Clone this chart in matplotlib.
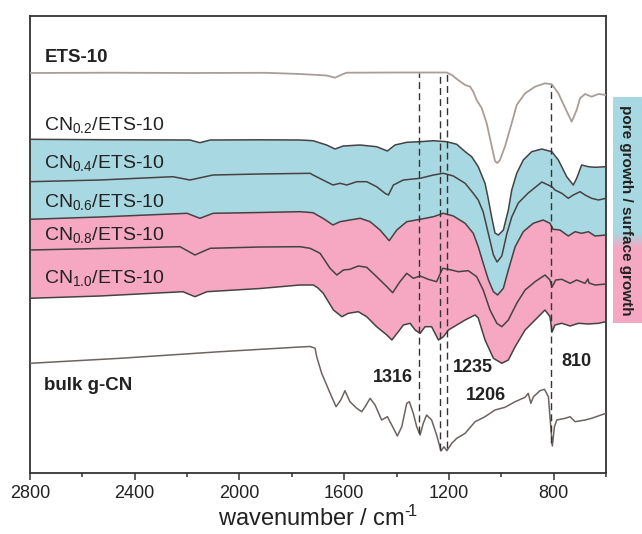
import matplotlib
matplotlib.use("Agg")
import matplotlib.pyplot as plt
import numpy as np
from matplotlib.ticker import MultipleLocator
from matplotlib.colors import LinearSegmentedColormap

plt.rcParams['font.family'] = ['Liberation Sans', 'DejaVu Sans']
plt.rcParams['mathtext.fontset'] = 'custom'
plt.rcParams['mathtext.rm'] = 'Liberation Sans'
plt.rcParams['mathtext.it'] = 'Liberation Sans:italic'
plt.rcParams['mathtext.bf'] = 'Liberation Sans:bold'

# ---------------- data (wavenumber in cm^-1, transmittance in a.u., offset) ----
ets_w = [2800, 2500, 2189, 1900, 1769, 1667, 1635, 1604, 1590, 1387, 1208, 1189, 1165, 1138,
         1119, 1107, 1094, 1075, 1056, 1036, 1024, 1015, 1005, 986, 960, 941, 909, 871, 833,
         807, 782, 756, 731, 712, 699, 680, 655, 629, 600]
ets_v = [400, 400.3, 400, 400.2, 399, 397.5, 395.3, 399, 400.3, 400.5, 400.5, 398, 393, 388,
         386.3, 381.3, 373, 365, 350, 326.3, 312, 310, 313, 326.3, 350, 368, 379.7, 386.3, 389.7,
         388.7, 379.7, 365, 351.3, 363, 374.7, 379, 376.3, 379, 378]

cn02_w = [2800, 2533, 2189, 2151, 2112, 1921, 1769, 1719, 1667, 1635, 1604, 1539, 1476, 1435,
          1406, 1361, 1310, 1259, 1208, 1170, 1138, 1113, 1088, 1062, 1051, 1036, 1024, 1011,
          992, 973, 960, 941, 916, 884, 845, 807, 782, 750, 725, 712, 693, 667, 642, 600]
cn02_v = [333.7, 333.3, 333, 330.3, 333, 333.2, 333, 332.3, 328, 324, 327, 328, 326.3, 322,
          328, 330.7, 331.3, 332.3, 331.3, 328.7, 321.3, 316.3, 306.3, 289.7, 276, 255, 240, 238,
          243, 263, 283, 299.7, 313, 321.3, 324, 321.3, 313, 296.3, 288, 294.7, 308, 306.3, 305.7, 306.3]

cn04_w = [2800, 2533, 2254, 2189, 2101, 1921, 1730, 1719, 1681, 1643, 1616, 1590, 1552, 1514,
          1476, 1444, 1431, 1412, 1374, 1310, 1259, 1221, 1183, 1138, 1107, 1088, 1069, 1049,
          1030, 1016, 998, 979, 960, 935, 897, 845, 807, 795, 769, 744, 725, 699, 680, 655, 629, 600]
cn04_v = [291.3, 293, 296.3, 293, 298, 299, 299.7, 298, 293, 288, 289.7, 288, 291.3, 291.3,
          286.3, 279.7, 278, 288, 293, 294.7, 298, 299.7, 297, 289.7, 279.7, 273, 261, 239,
          218, 211, 217, 239, 256, 270, 280, 291, 286.3, 283, 279.7, 274.7, 278, 281.3, 278, 274.7, 273, 274.7]

cn06_w = [2800, 2533, 2200, 2151, 2101, 1921, 1769, 1719, 1681, 1643, 1616, 1578, 1539, 1501,
          1463, 1428, 1399, 1361, 1310, 1259, 1221, 1183, 1138, 1107, 1088, 1069, 1049, 1030,
          1014, 992, 973, 947, 916, 878, 840, 814, 802, 776, 744, 718, 693, 667, 642, 600]
cn06_v = [253.7, 256, 259.7, 254.7, 259.7, 260.5, 261.3, 260.3, 254.7, 248, 251.3, 253, 254.7, 251.3,
          243, 232.3, 243, 251.3, 253.7, 256.3, 259.7, 257, 249.7, 239.7, 226.3, 209.7, 193, 181.3,
          178, 184.7, 203, 226.3, 241.3, 249.7, 253, 249.7, 243.7, 243, 237, 241.3, 239.7, 241.3, 237, 238]

cn08_w = [2800, 2533, 2227, 2170, 2112, 1921, 1769, 1730, 1692, 1654, 1628, 1603, 1578, 1546,
          1514, 1476, 1437, 1415, 1387, 1361, 1336, 1310, 1279, 1247, 1224, 1202, 1164, 1126,
          1094, 1069, 1043, 1017, 998, 973, 941, 909, 871, 833, 814, 806, 792, 769, 737, 712,
          680, 669, 665, 642, 600]
cn08_v = [223, 224.5, 226.3, 218, 224.7, 226, 226.3, 224.7, 219.7, 204.7, 198, 203, 203.7, 207,
          205.7, 196.3, 186.3, 180.3, 191.3, 199.7, 194.7, 197, 193.7, 191.3, 204.7, 203.7, 201.3, 202.3,
          196.3, 183, 163, 149.7, 146.3, 153, 169.7, 183, 191.3, 198, 193, 186, 193, 193.7, 189.7, 193,
          189.7, 194, 190, 188, 189]

cn10_w = [2800, 2533, 2216, 2170, 2124, 1921, 1769, 1718, 1700, 1680, 1641, 1609, 1584, 1546,
          1514, 1476, 1437, 1418, 1393, 1374, 1348, 1329, 1310, 1291, 1266, 1240, 1221, 1202,
          1170, 1138, 1100, 1088, 1062, 1030, 998, 973, 947, 909, 871, 833, 814, 806, 795, 769,
          737, 705, 667, 629, 600]
cn10_v = [174.7, 177, 181.3, 176.3, 181.3, 184.5, 188, 188, 185, 179.7, 163, 156.3, 159.7, 161.3,
          156.3, 146.3, 138, 133, 141.3, 148, 149.7, 143, 139.7, 146.3, 146.3, 133, 136.3, 143,
          148, 153, 158, 155, 133, 114.7, 109.7, 113, 126.3, 143, 153, 163, 156.3, 141, 148, 149.7,
          147, 149.7, 149, 149.7, 151.3]

bulk_w = [2800, 2456, 2074, 1769, 1730, 1711, 1705, 1686, 1667, 1648, 1631, 1613, 1597, 1578,
          1552, 1533, 1520, 1501, 1482, 1457, 1435, 1415, 1397, 1380, 1361, 1351, 1336, 1323,
          1310, 1298, 1285, 1266, 1247, 1230, 1219, 1208, 1189, 1170, 1138, 1100, 1062, 1024,
          986, 947, 909, 897, 887, 877, 852, 835, 820, 810, 805, 797, 788, 756, 737, 718, 680,
          655, 600]
bulk_v = [109.7, 114.7, 121.3, 126, 126.5, 124.7, 116.3, 99.7, 88, 76.3, 66.3, 73, 82.3, 71.3,
          64.7, 61.3, 66.3, 74.7, 68, 53, 56.3, 46.3, 37, 46.3, 69.7, 71.3, 59.7, 46.3,
          38, 49.7, 58, 53, 38, 22, 26.3, 22.3, 29.7, 34.7, 39.7, 51.3, 56.3, 63,
          65.7, 71.3, 75.7, 79.7, 69.7, 76.3, 82.3, 83.7, 76.3, 43, 27, 46.3, 53, 54.7, 56.3, 51.3, 53,
          54.7, 59.7]

series_labels = ['ETS-10', r'$\mathregular{CN_{0.2}}$/ETS-10', r'$\mathregular{CN_{0.4}}$/ETS-10',
                 r'$\mathregular{CN_{0.6}}$/ETS-10', r'$\mathregular{CN_{0.8}}$/ETS-10',
                 r'$\mathregular{CN_{1.0}}$/ETS-10', 'bulk g-CN']
label_v = [415, 348, 310, 271, 238, 195, 87]

peak_w = [1316, 1235, 1206, 810]
peak_top = [400, 400, 400, 388]
peak_bottom = [40, 23, 25, 30]
peak_text = ['1316', '1235', '1206', '810']
peak_text_w = [1414, 1110, 1058, 714]
peak_text_v = [96, 105, 78, 111]

xticks = [2800, 2400, 2000, 1600, 1200, 800]
side_text = 'pore growth / surface growth'

# ---------------- figure ----------------
fig = plt.figure(figsize=(6.42, 5.34), dpi=100)
ax = fig.add_axes([30/642, 61/534, 576/642, 457/534])

blue = '#A8D8E2'
pink = '#F6A8C3'
dark = '#464242'

def band(ax, w1, v1, w2, v2, color):
    xs = list(w1) + list(w2)[::-1]
    ys = list(v1) + list(v2)[::-1]
    ax.fill(xs, ys, color=color, lw=0, zorder=1)

band(ax, cn02_w, cn02_v, cn06_w, cn06_v, blue)
band(ax, cn06_w, cn06_v, cn10_w, cn10_v, pink)

ax.plot(ets_w, ets_v, color='#A89E99', lw=1.3, zorder=3)
for w, v in [(cn02_w, cn02_v), (cn04_w, cn04_v), (cn06_w, cn06_v), (cn08_w, cn08_v), (cn10_w, cn10_v)]:
    ax.plot(w, v, color=dark, lw=1.1, zorder=3)
ax.plot(bulk_w, bulk_v, color='#6C6460', lw=1.1, zorder=3)

ax.vlines(peak_w, peak_bottom, peak_top, colors='#333333', linestyles=(0, (5, 3)), lw=1.0, zorder=4)

for i, (lab, v) in enumerate(zip(series_labels, label_v)):
    bold = i in (0, 6)
    ax.text(2745, v, lab, fontsize=14 if not bold else 13.5,
            fontweight='bold' if bold else 'normal', color='#222222', va='center', ha='left', zorder=5)

for t, w, v in zip(peak_text, peak_text_w, peak_text_v):
    ax.text(w, v, t, fontsize=13, fontweight='bold', color='#222222', ha='center', va='center', zorder=5)

ax.set_xlim(2800, 600)
ax.set_ylim(0, 457)
ax.set_yticks([])
ax.set_xticks(xticks)
ax.xaxis.set_minor_locator(MultipleLocator(200))
ax.tick_params(axis='x', which='major', direction='out', length=5, width=1.1, labelsize=13,
               colors='#333333', labelcolor='#222222', pad=4)
ax.tick_params(axis='x', which='minor', direction='out', length=3, width=1.1, colors='#333333')
for s in ax.spines.values():
    s.set_linewidth(1.3)
    s.set_color('#333333')
ax.set_xlabel('wavenumber / cm$^{\\mathregular{\u2010}\\!\\mathregular{1}}$', fontsize=17, color='#222222', labelpad=2)

# side gradient box
cax = fig.add_axes([613/642, (534-323)/534, 29/642, 226/534])
cmap = LinearSegmentedColormap.from_list('pg', [(0, blue), (0.6, blue), (0.67, pink), (1, pink)])
grad = np.linspace(0, 1, 256).reshape(-1, 1)
cax.imshow(grad, aspect='auto', cmap=cmap, extent=(0, 1, 1, 0))
cax.set_axis_off()
cax.text(0.45, 0.5, side_text, rotation=-90, fontsize=11, fontweight='bold',
         color='#222222', ha='center', va='center', transform=cax.transAxes)

fig.savefig('out.png', dpi=100)
